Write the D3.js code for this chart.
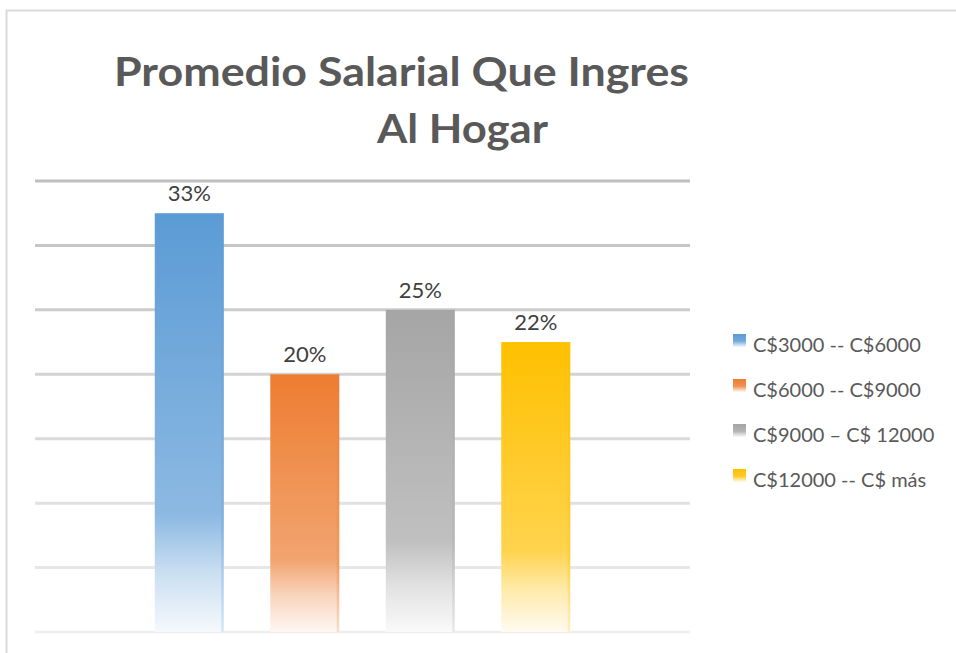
<!DOCTYPE html>
<html>
<head>
<meta charset="utf-8">
<script src="https://cdn.jsdelivr.net/npm/d3@7"></script>
<style>
  html, body { margin: 0; padding: 0; background: #fff; }
  svg { display: block; }
</style>
</head>
<body>
<svg id="chart" width="956" height="653"></svg>
<script>
// ---- data ----
const titleLines = ["Promedio Salarial Que Ingres", "Al Hogar"];
const seriesNames = ["C$3000 -- C$6000", "C$6000 -- C$9000", "C$9000 \u2013 C$ 12000", "C$12000 -- C$ m\u00e1s"];
const seriesValues = [0.325, 0.20, 0.25, 0.225];
const valueLabels = ["33%", "20%", "25%", "22%"];
const seriesColors = ["#5b9bd5", "#ed7d31", "#a5a5a5", "#ffc000"];
const gridTicks = [0, 0.05, 0.10, 0.15, 0.20, 0.25, 0.30, 0.35];

const svg = d3.select("#chart");
const W = 956, H = 653;
const font = "Lato, 'Open Sans', sans-serif";

// frame
svg.append("line").attr("x1", 6).attr("x2", W).attr("y1", 10.5).attr("y2", 10.5)
  .attr("stroke", "#d9d9d9").attr("stroke-width", 2);
svg.append("line").attr("x1", 6.5).attr("x2", 6.5).attr("y1", 10).attr("y2", H)
  .attr("stroke", "#d9d9d9").attr("stroke-width", 2);

// scales
const plot = { left: 35, right: 690, top: 181, bottom: 632 };
const y = d3.scaleLinear().domain([0, 0.35]).range([plot.bottom, plot.top]);
const x = d3.scaleBand().domain(seriesNames).range([plot.left, plot.right])
  .paddingInner(0.403).paddingOuter(1.037);

// gradients
const defs = svg.append("defs");
const mixW = (c, t) => d3.interpolateRgb(c, "#ffffff")(t);
const barStops = [[0, 0], [0.72, 0.3], [0.86, 0.68], [1, 0.94]];
seriesColors.forEach((c, i) => {
  const g = defs.append("linearGradient").attr("id", "bar" + i)
    .attr("x1", 0).attr("y1", 0).attr("x2", 0).attr("y2", 1);
  barStops.forEach(s => g.append("stop").attr("offset", s[0]).attr("stop-color", mixW(c, s[1])));
  const e = defs.append("linearGradient").attr("id", "edge" + i)
    .attr("x1", 0).attr("y1", 0).attr("x2", 0).attr("y2", 1);
  [[0, 0], [0.75, 0.15], [1, 0.6]].forEach(s => e.append("stop").attr("offset", s[0]).attr("stop-color", mixW(c, s[1])));
  const l = defs.append("linearGradient").attr("id", "leg" + i)
    .attr("x1", 0).attr("y1", 0).attr("x2", 0).attr("y2", 1);
  [[0, 0], [0.55, 0.15], [1, 0.95]].forEach(s => l.append("stop").attr("offset", s[0]).attr("stop-color", mixW(c, s[1])));
});

// gridlines
const gridColor = d3.scaleLinear().domain([0, 0.35]).range(["#eeeeee", "#bfbfbf"]);
svg.append("g").selectAll("line").data(gridTicks).join("line")
  .attr("x1", plot.left).attr("x2", plot.right)
  .attr("y1", d => y(d)).attr("y2", d => y(d))
  .attr("stroke", d => gridColor(d)).attr("stroke-width", d => d === 0 ? 2.5 : 3);

// bars
const bars = svg.append("g");
bars.selectAll("rect.bar").data(seriesValues).join("rect").attr("class", "bar")
  .attr("x", (d, i) => x(seriesNames[i]))
  .attr("width", x.bandwidth())
  .attr("y", d => y(d))
  .attr("height", d => y(0) - y(d))
  .attr("fill", (d, i) => `url(#bar${i})`);
bars.selectAll("rect.edge").data(seriesValues).join("rect").attr("class", "edge")
  .attr("x", (d, i) => x(seriesNames[i]) + x.bandwidth() - 2.5)
  .attr("width", 2.5)
  .attr("y", d => y(d))
  .attr("height", d => y(0) - y(d))
  .attr("fill", (d, i) => `url(#edge${i})`).attr("opacity", 0.55);

// value labels
svg.append("g").selectAll("text").data(seriesValues).join("text")
  .attr("x", (d, i) => x(seriesNames[i]) + x.bandwidth() / 2)
  .attr("y", d => y(d) - 12)
  .attr("text-anchor", "middle")
  .attr("font-family", font).attr("font-size", 22)
  .attr("fill", "#404040")
  .text((d, i) => valueLabels[i]);

// title
const title = svg.append("g").attr("font-family", font).attr("font-weight", "bold")
  .attr("fill", "#595959").attr("font-size", 41);
title.append("text").attr("x", 114).attr("y", 86)
  .attr("textLength", 575).attr("lengthAdjust", "spacingAndGlyphs").text(titleLines[0]);
title.append("text").attr("x", 377).attr("y", 143)
  .attr("textLength", 171).attr("lengthAdjust", "spacingAndGlyphs").text(titleLines[1]);

// legend
const legend = svg.append("g").selectAll("g").data(seriesNames).join("g")
  .attr("transform", (d, i) => `translate(733, ${352 + i * 45})`);
legend.append("rect").attr("x", 0).attr("y", -18).attr("width", 13).attr("height", 13)
  .attr("fill", (d, i) => `url(#leg${i})`);
legend.append("text").attr("x", 20).attr("y", 0)
  .attr("font-family", font).attr("font-size", 20).attr("fill", "#595959")
  .text(d => d);
</script>
</body>
</html>
